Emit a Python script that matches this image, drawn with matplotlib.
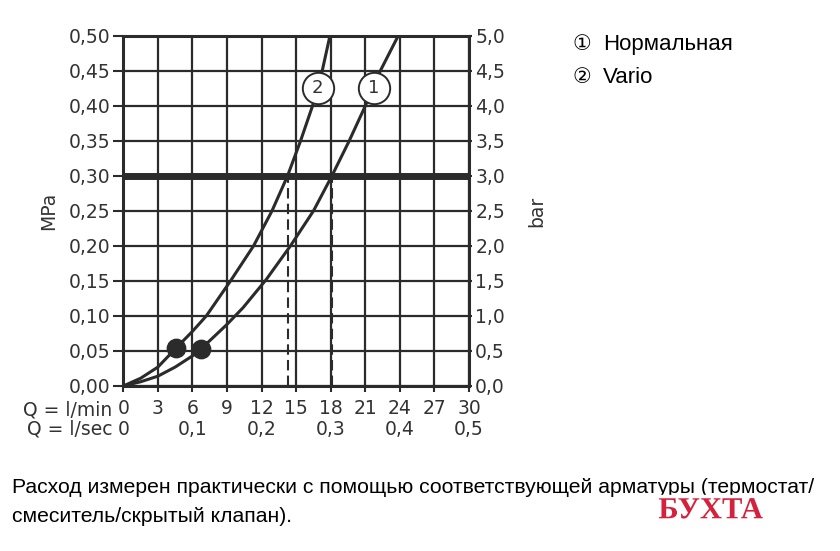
import matplotlib
matplotlib.use('Agg')
import matplotlib.pyplot as plt
import matplotlib.patheffects as pe

# расход, л/мин (ось X) и давление, МПа
q_ticks = [0, 3, 6, 9, 12, 15, 18, 21, 24, 27, 30]
lsec_pos = [0, 6, 12, 18, 24, 30]
lsec_labels = ['0', '0,1', '0,2', '0,3', '0,4', '0,5']
mpa_ticks = [0.0, 0.05, 0.10, 0.15, 0.20, 0.25, 0.30, 0.35, 0.40, 0.45, 0.50]
bar_ticks = [0.0, 0.5, 1.0, 1.5, 2.0, 2.5, 3.0, 3.5, 4.0, 4.5, 5.0]

# кривая 1 - нормальная
curve1_q = [0, 1.5, 3, 4.5, 6.0, 6.75, 9.0, 10.4, 12.4, 14.5, 16.5, 18.1, 19.6, 21.0, 22.3, 23.85]
curve1_p = [0, 0.006, 0.014, 0.027, 0.043, 0.053, 0.088, 0.112, 0.152, 0.20, 0.25, 0.30, 0.35, 0.40, 0.45, 0.50]
# кривая 2 - Vario
curve2_q = [0, 1.5, 3, 4.57, 6.0, 7.2, 9.3, 11.3, 12.9, 14.25, 15.38, 16.42, 17.26, 17.93]
curve2_p = [0, 0.011, 0.027, 0.054, 0.078, 0.10, 0.15, 0.20, 0.25, 0.30, 0.35, 0.40, 0.45, 0.50]

dots_q = [4.57, 6.75]
dots_p = [0.054, 0.053]
work_p = 0.30
dash_q = [14.25, 18.15]
label_q = [21.77, 16.86]
label_p = [0.425, 0.425]
label_txt = ['1', '2']

ink = '#2b2b2b'
txt = '#333333'
tick_font = 'DejaVu Sans'
fs = 13.5

fig = plt.figure(figsize=(8.4, 5.51), dpi=100)
ax = fig.add_axes([0.1468, 0.2995, 0.4115, 0.6352])
ax.set_xlim(0, 30)
ax.set_ylim(0, 0.5)

# сетка
for x in q_ticks:
    ax.axvline(x, color=ink, lw=1.6, zorder=1)
for y in mpa_ticks:
    ax.axhline(y, color=ink, lw=1.6, zorder=1)

ax.axhline(work_p, color=ink, lw=5, zorder=2)
for x in dash_q:
    ax.plot([x, x], [0, work_p], color=ink, lw=1.5, ls=(0, (5, 2.5)), zorder=2)

ax.plot(curve1_q, curve1_p, color=ink, lw=2.2, zorder=3)
ax.plot(curve2_q, curve2_p, color=ink, lw=2.2, zorder=3)
ax.scatter(dots_q, dots_p, s=175, color=ink, zorder=4)
ax.scatter(label_q, label_p, s=510, facecolor='white', edgecolor=ink, lw=1.4, zorder=5)
for x, y, t in zip(label_q, label_p, label_txt):
    ax.text(x, y, t, ha='center', va='center', fontsize=13, family=tick_font, color=txt, zorder=6)

for s in ax.spines.values():
    s.set_linewidth(2.2)
    s.set_color(ink)

ax.set_xticks(q_ticks)
ax.set_xticklabels([str(v) for v in q_ticks], family=tick_font, fontsize=fs, color=txt)
ax.set_yticks(mpa_ticks)
ax.set_yticklabels([('%.2f' % v).replace('.', ',') for v in mpa_ticks], family=tick_font, fontsize=fs, color=txt)
ax.tick_params(axis='x', direction='out', length=4.5, width=1.5, color=ink, pad=5)
ax.tick_params(axis='y', direction='out', length=7, width=1.5, color=ink, pad=2)
ax.set_ylabel('MPa', family=tick_font, fontsize=fs, color=txt, labelpad=8)

ax2 = ax.twinx()
ax2.set_ylim(0, 5)
ax2.set_yticks(bar_ticks)
ax2.set_yticklabels([('%.1f' % v).replace('.', ',') for v in bar_ticks], family=tick_font, fontsize=fs, color=txt)
ax2.tick_params(axis='y', direction='out', length=2.5, width=1.5, color=ink, pad=2)
ax2.set_ylabel('bar', family=tick_font, fontsize=fs, color=txt, labelpad=16)
for s in ax2.spines.values():
    s.set_visible(False)

# подписи оси X
ax.annotate('Q = l/min', xy=(0, 0), xycoords='axes fraction', xytext=(-8, -17),
            textcoords='offset points', ha='right', va='center', family=tick_font, fontsize=fs, color=txt)
ax.annotate('Q = l/sec', xy=(0, 0), xycoords='axes fraction', xytext=(-8, -31),
            textcoords='offset points', ha='right', va='center', family=tick_font, fontsize=fs, color=txt)
for x, t in zip(lsec_pos, lsec_labels):
    ax.annotate(t, xy=(x, 0), xycoords=('data', 'axes fraction'), xytext=(0, -31),
                textcoords='offset points', ha='center', va='center', family=tick_font, fontsize=fs, color=txt)

# легенда
leg_font = ['Liberation Sans', 'DejaVu Sans']
fig.text(0.681, 0.92, '\u2460', family=leg_font, fontsize=15, va='center', ha='left')
fig.text(0.718, 0.92, 'Нормальная', family=leg_font, fontsize=16, va='center', ha='left')
fig.text(0.681, 0.86, '\u2461', family=leg_font, fontsize=15, va='center', ha='left')
fig.text(0.718, 0.86, 'Vario', family=leg_font, fontsize=16, va='center', ha='left')

# примечание
fig.text(0.014, 0.116, 'Расход измерен практически с помощью соответствующей арматуры (термостат/',
         family='Liberation Sans', fontsize=15.2, va='center')
fig.text(0.014, 0.062, 'смеситель/скрытый клапан).', family='Liberation Sans', fontsize=15.2, va='center')
fig.text(0.846, 0.073, 'БУХТА', family='Liberation Serif', weight='bold', fontsize=22, color='#d4213d',
         ha='center', va='center',
         path_effects=[pe.withStroke(linewidth=5, foreground='white')])

fig.savefig('out.png', dpi=100)
